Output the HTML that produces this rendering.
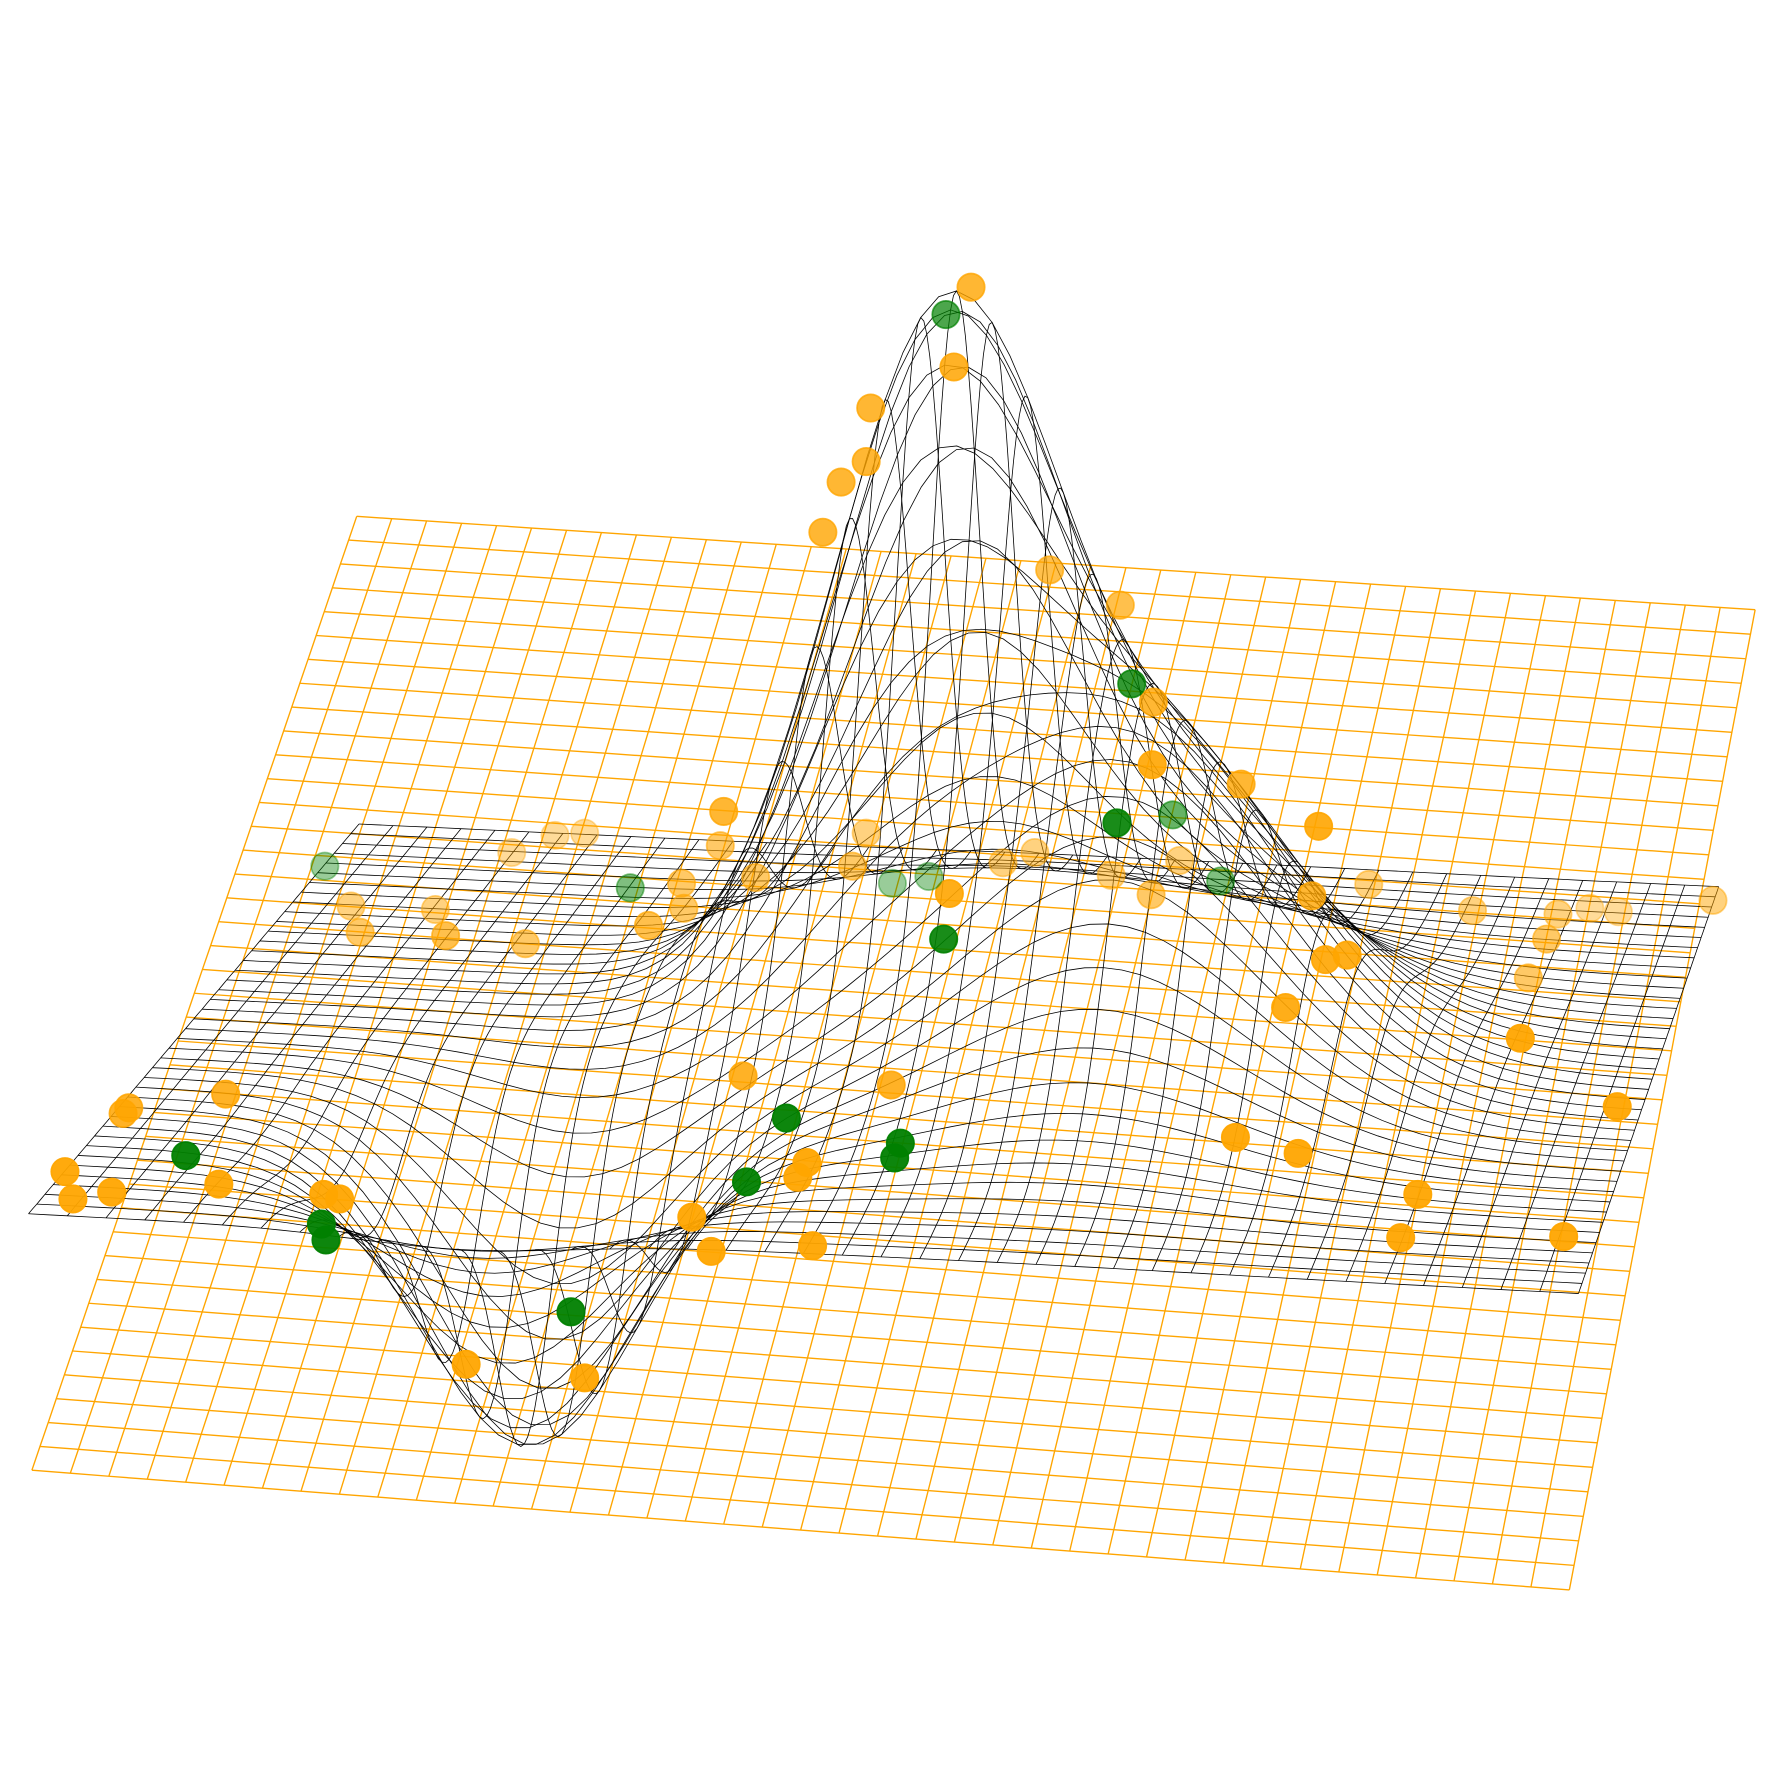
<!DOCTYPE html>
<html><head><meta charset="utf-8"><style>
html,body{margin:0;padding:0;background:#fff;}
svg{display:block;}
</style></head><body>
<svg id="chart" width="1778" height="1778" viewBox="0 0 1778 1778" xmlns="http://www.w3.org/2000/svg">
<rect width="1778" height="1778" fill="#fff"/>
<g transform="scale(1.1397)">
<g id="plane"></g>
<g id="surface"></g>
<g id="points"></g>
</g>
</svg>
<script>
// Surface bumps: centres (u,v), widths, heights
const bumpU = [0.49, 0.65, 0.28];
const bumpV = [0.35, 0.50, 0.75];
const bumpSU = [0.078, 0.10, 0.07];
const bumpSV = [0.10, 0.15, 0.10];
const bumpH = [565, 290, -270];
// Scatter points in projected data units (x, y), depth-shade alpha
const orangeX = [426,418.5,382,380,369,361,460.5,491.5,506,505.5,544.5,578.5,317.5,316,380,243.5,256.5,224.5,154,158,191,195.5,230.5,284.5,299,300,331.5,374,416.5,440,454,487.5,505,517.5,575.5,600.5,646,683.5,697.5,710,751.5,678.5,670.5,581.5,591,564,667,709.5,326,391,56.5,54,99,28.5,32,49,96,142,149,354,350,542,569.5,622,614.5,686,303.5,312,356.5,204.5,256.5];
const orangeY = [126,161,179,202.5,211.5,233.5,250,265.5,308,335.5,344,362.5,356,371,365.5,366.5,365.5,374,397.5,409,399,410.5,414,406,387.5,398.5,385,380,392,378.5,374,384,392.5,377.5,393,388,399.5,401,398.5,400,395,412,429,421,419,442,455.5,485.5,472,476,486,488.5,480,514,526,523,519.5,524,526,510,516.5,499,506,524,543,542.5,534,549,546.5,598.5,604.5];
const orangeA = [.8,.85,.8,.8,.8,.8,.7,.7,.8,.9,.8,.9,.8,.6,.5,.4,.4,.4,.5,.6,.5,.7,.6,.7,.6,.6,.6,.6,.9,.5,.5,.5,.6,.5,.8,.5,.5,.5,.4,.4,.5,.6,.6,.9,.9,.9,.95,.95,.85,.85,.85,.85,.85,.95,.95,.95,.95,.95,.95,.95,.95,.95,.95,.95,.95,.95,.95,.95,.95,.95,.95];
const greenX = [415,496.5,490,514.5,535.5,414,142.5,276.5,391.5,407.5,345,395,392.5,81.5,327.5,141,143,250.5];
const greenY = [138,300,361,357.5,386.5,412,380,389.5,387.5,384.5,490.5,501.5,508,507,518.5,537,544,575.5];
const greenA = [.7,.8,.9,.6,.5,.9,.4,.5,.4,.4,.95,.95,.95,.95,.95,.95,.95,.95];

const NS='http://www.w3.org/2000/svg';
function sx(d){return d*2;}
function sy(d){return d*2;}
function bil(c,u,v){
  const x=(c[0][0]*(1-u)+c[1][0]*u)*(1-v)+(c[2][0]*(1-u)+c[3][0]*u)*v;
  const y=(c[0][1]*(1-u)+c[1][1]*u)*(1-v)+(c[2][1]*(1-u)+c[3][1]*u)*v;
  return [x,y];
}
const planeC=[[313,453],[1540,535],[28,1290],[1377,1395]];
const surfC=[[315,723],[1508,778],[25,1065],[1385,1135]];
function zf(u,v){let z=0;for(let i=0;i<bumpU.length;i++){z+=bumpH[i]*Math.exp(-(((u-bumpU[i])**2)/(2*bumpSU[i]**2)+((v-bumpV[i])**2)/(2*bumpSV[i]**2)));}return z;}
function poly(g,pts,stroke,w,name){
  const p=document.createElementNS(NS,'polyline');
  p.setAttribute('points',pts.map(q=>q[0].toFixed(1)+','+q[1].toFixed(1)).join(' '));
  p.setAttribute('fill','none');p.setAttribute('stroke',stroke);p.setAttribute('stroke-width',w);
  
  
  g.appendChild(p);
}
const N=40;
const gp=document.getElementById('plane');
for(let i=0;i<=N;i++){
  const a=[],b=[];
  for(let j=0;j<=N;j++){a.push(bil(planeC,i/N,j/N));b.push(bil(planeC,j/N,i/N));}
  poly(gp,a,'#FFA500',1.2,'plane-grid-line');poly(gp,b,'#FFA500',1.2,'plane-grid-line');
}
const gs=document.getElementById('surface');
const M=40,S=80;
function sp(u,v){const p=bil(surfC,u,v);return [p[0],p[1]-zf(u,v)];}
for(let i=0;i<=M;i++){
  const a=[],b=[];
  for(let j=0;j<=S;j++){a.push(sp(i/M,j/S));b.push(sp(j/S,i/M));}
  poly(gs,a,'#000',0.7,'surface-wire');poly(gs,b,'#000',0.7,'surface-wire');
}
const gpt=document.getElementById('points');
function dot(x,y,a,col,name){
  const c=document.createElementNS(NS,'circle');
  c.setAttribute('cx',sx(x));c.setAttribute('cy',sy(y));c.setAttribute('r',12);
  c.setAttribute('fill',col);c.setAttribute('stroke',col);c.setAttribute('stroke-width',1.5);
  c.setAttribute('fill-opacity',a);c.setAttribute('stroke-opacity',a);
  
  
  gpt.appendChild(c);
}
for(let i=0;i<orangeX.length;i++)dot(orangeX[i],orangeY[i],orangeA[i],'#FFA500','orange-point');
for(let i=0;i<greenX.length;i++)dot(greenX[i],greenY[i],greenA[i],'#008000','green-point');
</script>
</body></html>
